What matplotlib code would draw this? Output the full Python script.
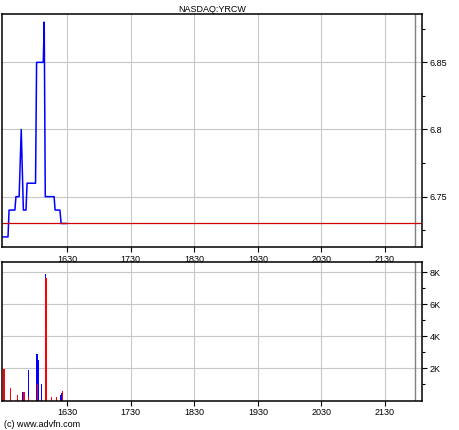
import matplotlib
matplotlib.use("Agg")
import matplotlib.pyplot as plt
from matplotlib.ticker import FixedLocator, MultipleLocator

# minutes after 15:30
price_t = [-1.7, 4, 5, 10.5, 11.5, 14.5, 16.5, 18.5, 21, 22, 30, 31,
           37.3, 38.2, 39.2, 47.5, 48.5, 53, 54.2, 58.8]
price = [6.72, 6.72, 6.74, 6.74, 6.75, 6.75, 6.80, 6.74, 6.74, 6.76, 6.76, 6.85,
         6.85, 6.88, 6.75, 6.75, 6.74, 6.74, 6.73, 6.73]
prev_close = 6.73

blue_t = [17.5, 18.1, 23.2, 31.4, 32.3, 35.4, 39.4, 53.4, 54.3]
blue_v = [280, 530, 1900, 2900, 2500, 1000, 7900, 350, 470]
red_t = [0.2, 6.1, 12.8, 19.1, 23.4, 31.8, 39.9, 44.9, 49.6, 55.3]
red_v = [1950, 780, 340, 530, 200, 1000, 7650, 200, 200, 600]
green_t = [38.9]
green_v = [1300]

hour_ticks = [60, 120, 180, 240, 300, 360]
hour_labels = ["1630", "1730", "1830", "1930", "2030", "2130"]
price_ticks = [6.75, 6.8, 6.85]
vol_ticks = [2000, 4000, 6000, 8000]
vol_labels = ["2K", "4K", "6K", "8K"]

plt.rcParams["font.family"] = ["Liberation Sans", "DejaVu Sans"]
fig = plt.figure(figsize=(4.6, 4.3), dpi=100)
ax1 = fig.add_axes([0.0043, 0.4256, 0.913, 0.5418])
ax2 = fig.add_axes([0.0043, 0.0686, 0.913, 0.3214])

xlim = (-1.7, 395)
grid_col = "#c8c8c4"

for ax in (ax1, ax2):
    ax.set_xlim(*xlim)
    ax.set_xticks(hour_ticks)
    ax.set_xticklabels(hour_labels)
    ax.grid(True, color=grid_col, linewidth=0.8)
    ax.axvline(388.3, color="#808080", linewidth=1)
    ax.yaxis.tick_right()
    ax.tick_params(axis="both", labelsize=6.5, length=3.5, width=0.8, pad=2)
    ax.tick_params(axis="y", which="minor", length=2.5, width=0.8)
    for s in ax.spines.values():
        s.set_linewidth(1.1)
    ax.set_axisbelow(True)

# price panel
ax1.plot(price_t, price, color="#0000ff", linewidth=1.1)
ax1.axhline(prev_close, color="#cc0000", linewidth=0.9)
ax1.set_ylim(6.7125, 6.886)
ax1.set_yticks(price_ticks)
ax1.set_yticklabels(["6.75", "6.8", "6.85"])
ax1.yaxis.set_minor_locator(MultipleLocator(0.025))
ax1.set_title("NASDAQ:YRCW", fontsize=6.5, pad=1)

# volume panel
ax2.bar(blue_t, blue_v, width=1.0, color="#0000ff", linewidth=0)
ax2.bar(red_t, red_v, width=1.0, color="#ff0000", linewidth=0)
ax2.bar(green_t, green_v, width=0.8, color="#00a000", linewidth=0)
ax2.set_ylim(0, 8625)
ax2.set_yticks(vol_ticks)
ax2.set_yticklabels(vol_labels)
ax2.yaxis.set_minor_locator(FixedLocator([1000, 3000, 5000, 7000]))

fig.text(0.009, 0.008, "(c) www.advfn.com", fontsize=6.5)

fig.savefig("out.png", dpi=100)
